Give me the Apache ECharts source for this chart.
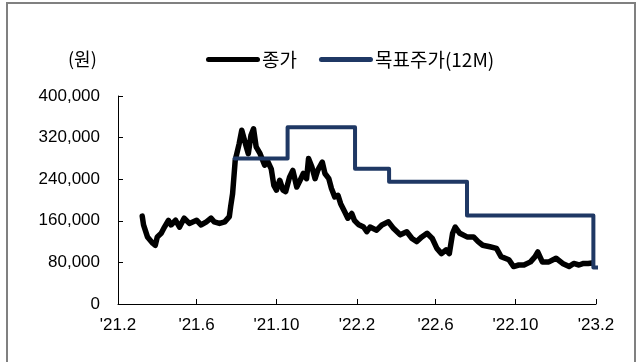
<!DOCTYPE html>
<html>
<head>
<meta charset="utf-8">
<script src="https://cdn.jsdelivr.net/npm/echarts@6/dist/echarts.min.js"></script>
<style>
html, body { margin: 0; padding: 0; background: #ffffff; }
#chart { width: 638px; height: 362px; }
</style>
</head>
<body>
<div id="chart"></div>
<script>
// Closing price (원)
const priceDates = [
  '2021-03-10','2021-03-12','2021-03-18','2021-03-26','2021-03-30','2021-04-02','2021-04-08','2021-04-13',
  '2021-04-19','2021-04-23','2021-04-30','2021-05-06','2021-05-13','2021-05-21','2021-06-01','2021-06-08',
  '2021-06-16','2021-06-23','2021-06-28','2021-07-06','2021-07-14','2021-07-21','2021-07-23','2021-07-26',
  '2021-07-28','2021-07-30','2021-08-05','2021-08-09','2021-08-12','2021-08-16','2021-08-19','2021-08-23',
  '2021-08-27','2021-08-31','2021-09-06','2021-09-13','2021-09-17','2021-09-23','2021-09-27','2021-10-01',
  '2021-10-06','2021-10-11','2021-10-15','2021-10-21','2021-10-26','2021-11-01','2021-11-05','2021-11-11',
  '2021-11-16','2021-11-19','2021-11-24','2021-11-29','2021-12-03','2021-12-10','2021-12-14','2021-12-20',
  '2021-12-24','2021-12-29','2022-01-03','2022-01-07','2022-01-13','2022-01-18','2022-01-24','2022-01-28',
  '2022-02-03','2022-02-11','2022-02-16','2022-02-21','2022-03-03','2022-03-11','2022-03-21','2022-03-29',
  '2022-04-08','2022-04-18','2022-04-26','2022-05-03','2022-05-11','2022-05-19','2022-05-27','2022-06-03',
  '2022-06-10','2022-06-17','2022-06-22','2022-06-27','2022-07-01','2022-07-08','2022-07-19','2022-07-29',
  '2022-08-05','2022-08-12','2022-08-23','2022-09-02','2022-09-09','2022-09-21','2022-09-28','2022-10-06',
  '2022-10-14','2022-10-24','2022-10-31','2022-11-04','2022-11-11','2022-11-21','2022-12-02','2022-12-12',
  '2022-12-22','2022-12-29','2023-01-06','2023-01-13','2023-01-20','2023-01-26'
];
const priceValues = [
  169000,152000,129000,117000,113000,129000,136000,148000,
  161000,152000,161000,148000,165000,155000,161000,152000,
  158000,165000,158000,155000,158000,168000,187000,212000,
  244000,276000,308000,334000,337000,302000,289000,324000,
  337000,302000,289000,267000,276000,260000,228000,219000,
  238000,219000,216000,244000,257000,225000,235000,251000,
  241000,280000,264000,241000,257000,273000,251000,241000,
  222000,206000,209000,193000,178000,165000,174000,161000,
  153000,148000,139000,148000,142000,152000,158000,145000,
  133000,139000,126000,120000,129000,136000,126000,107000,
  97000,104000,97000,136000,148000,136000,129000,129000,
  120000,113000,110000,107000,91000,85000,72000,75000,
  75000,81000,91000,100000,81000,81000,88000,78000,
  72000,78000,75000,78000,78000,79000
];

// Target price, 12 months (원)
const targetDates = ['2021-07-29','2021-10-18','2022-01-29','2022-03-22','2022-07-19','2023-01-28','2023-02-07'];
const targetValues = [280000, 340000, 260000, 235000, 170000, 70000, 70000];

// Axis ticks
const xTickDates = ['2021-02-01','2021-06-01','2021-10-01','2022-02-01','2022-06-01','2022-10-01','2023-02-01'];
const yTickValues = [0, 80000, 160000, 240000, 320000, 400000];

const seriesNames = ['종가', '목표주가(12M)'];
const unitLabel = '(원)';

const toTs = d => Date.parse(d);
const pair = (dates, vals) => dates.map((d, i) => [toTs(d), vals[i]]);
const xTicks = xTickDates.map(toTs);

const labelFont = "'Liberation Sans', Arial, sans-serif";
const cjkFont = "'Noto Sans CJK KR', 'Liberation Sans', sans-serif";

const chart = echarts.init(document.getElementById('chart'), null, { renderer: 'canvas' });
chart.setOption({
  animation: false,
  backgroundColor: '#ffffff',
  graphic: [{
    type: 'rect',
    shape: { x: 7, y: 3, width: 628, height: 380 },
    style: { fill: 'none', stroke: '#808080', lineWidth: 2 },
    silent: true
  }],
  title: {
    text: unitLabel,
    left: 63,
    top: 45,
    textStyle: { fontFamily: cjkFont, fontSize: 18, fontWeight: 'normal', color: '#000' }
  },
  legend: {
    left: 201,
    top: 45,
    itemWidth: 54,
    itemHeight: 5,
    itemGap: 22,
    icon: 'path://M2.5,0 L51.5,0 A2.5,2.5 0 0 1 51.5,5 L2.5,5 A2.5,2.5 0 0 1 2.5,0 Z',
    textStyle: { fontFamily: cjkFont, fontSize: 19, color: '#000', padding: [0, 0, 0, -3] },
    data: seriesNames
  },
  grid: { left: 118, right: 42, top: 96, bottom: 58, containLabel: false },
  xAxis: {
    type: 'value',
    min: xTicks[0],
    max: xTicks[xTicks.length - 1],
    splitLine: { show: false },
    axisLine: { lineStyle: { color: '#000', width: 1 } },
    axisTick: { inside: true, length: 5, customValues: xTicks, lineStyle: { color: '#000' } },
    axisLabel: {
      customValues: xTicks,
      margin: 13,
      fontFamily: labelFont,
      fontSize: 17,
      color: '#000',
      formatter: v => {
        const d = new Date(v);
        return "'" + String(d.getUTCFullYear()).slice(2) + '.' + (d.getUTCMonth() + 1);
      }
    }
  },
  yAxis: {
    type: 'value',
    min: yTickValues[0],
    max: yTickValues[yTickValues.length - 1],
    interval: yTickValues[1] - yTickValues[0],
    splitLine: { show: false },
    axisLine: { show: true, lineStyle: { color: '#000', width: 1 } },
    axisTick: { show: true, inside: true, length: 5, lineStyle: { color: '#000' } },
    axisLabel: {
      margin: 18,
      fontFamily: labelFont,
      fontSize: 17,
      color: '#000',
      formatter: v => v.toLocaleString('en-US')
    }
  },
  series: [
    {
      name: seriesNames[0],
      type: 'line',
      data: pair(priceDates, priceValues),
      showSymbol: false,
      symbol: 'none',
      lineStyle: { color: '#000000', width: 5.5, join: 'round', cap: 'round' },
      itemStyle: { color: '#000000' },
      z: 2
    },
    {
      name: seriesNames[1],
      type: 'line',
      step: 'end',
      data: pair(targetDates, targetValues),
      showSymbol: false,
      symbol: 'none',
      lineStyle: { color: '#1f3864', width: 4, join: 'round', cap: 'round' },
      itemStyle: { color: '#1f3864' },
      z: 3
    }
  ]
});
</script>
</body>
</html>
